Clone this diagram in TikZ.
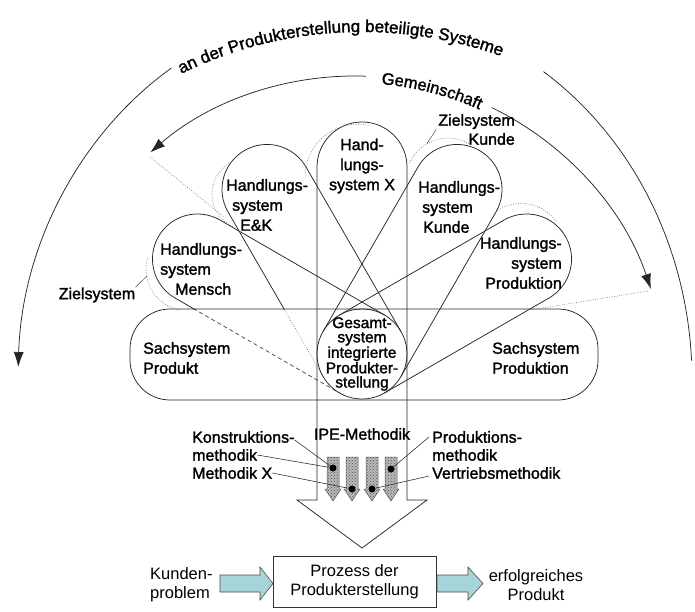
\documentclass[tikz,border=0pt]{standalone}
\usepackage{fontspec}
\setmainfont{Liberation Sans}
\newfontfamily\upf{Liberation Sans}[BoldFont={Liberation Sans},BoldFeatures={FakeBold=1.6}]
\usetikzlibrary{arrows.meta,calc,decorations.text,patterns}
\definecolor{arrcyan}{RGB}{166,212,216}
\begin{document}
\begin{tikzpicture}[x=1pt,y=-1pt,
  ln/.style={draw=black!85,line width=0.75pt},
  hidden/.style={draw=black!75,line width=0.7pt,dash pattern=on 4pt off 3pt},
  dotln/.style={draw=black!55,line width=0.6pt,dash pattern=on 0.8pt off 1.6pt},
  tip/.style={-{Latex[length=15pt,width=10pt]}},
  up/.style={inner sep=0pt,font=\upf\bfseries\fontsize{16}{20}\selectfont},
  low/.style={inner sep=0pt,font=\fontsize{16.5}{19.5}\selectfont},
  dot/.style={circle,fill=black,inner sep=0pt,minimum size=7pt},
  marrow/.style={draw=black!65,line width=0.5pt,fill=black!28,
    postaction={pattern=crosshatch dots,pattern color=black!65}},
  cyanarrow/.style={draw=black!70,line width=0.6pt,fill=arrcyan}]
\useasboundingbox (0,0) rectangle (695,612);

% ---------- outer arc (beteiligte Systeme) ----------
\draw[ln,tip] (355,380) ++(-123:337 and 372) arc[start angle=-123,end angle=-178,x radius=337,y radius=372];
\draw[ln] (355,380) ++(-56:337 and 372) arc[start angle=-56,end angle=-3,x radius=337,y radius=372];
\path[decorate,decoration={text along path,text align=left,
  text={|\upf\bfseries\fontsize{17}{20}\selectfont|an der Produkterstellung beteiligte Systeme}}]
  (362,390) ++(-118:385 and 358) arc[start angle=-118,end angle=-40,x radius=385,y radius=358];

% ---------- inner arc (Gemeinschaft) ----------
\draw[ln,tip] (355,388) ++(-88:312) arc[start angle=-88,end angle=-131,radius=312];
\draw[ln,tip] (355,388) ++(-64:312) arc[start angle=-64,end angle=-18.5,radius=312];
\path[decorate,decoration={text along path,text align=center,
  text={|\upf\bfseries\fontsize{16.5}{20}\selectfont|Gemeinschaft}}]
  (355,388) ++(-90:305) arc[start angle=-90,end angle=-61,radius=305];

% ---------- key coordinates ----------
\coordinate (C) at (362,354);
\coordinate (hM) at ($(C)+(-150:190)$);
\coordinate (hE) at ($(C)+(-120:190)$);
\coordinate (hX) at (362,167);
\coordinate (hK) at ($(C)+(-60:190)$);
\coordinate (hP) at ($(C)+(-30:190)$);

% ---------- Sachsystem box ----------
\node[draw=black!85,line width=0.75pt,rounded corners=40pt,minimum width=468pt,minimum height=91pt,inner sep=0pt] (sach) at (364,354.5) {};
\node[up,anchor=west,align=left] (sprod) at (143,358) {Sachsystem\\Produkt};
\node[up,anchor=west,align=left] (sprodn) at (492,358) {Sachsystem\\Produktion};

% ---------- IPE big arrow / Handlungssystem X ----------
\draw[ln] (317,500) -- (317,167) arc[start angle=-180,end angle=0,radius=45] -- (407,500) -- (427,500) -- (362,548) -- (297,500) -- cycle;

% ---------- petals ----------
% Mensch
\draw[ln] ($(C)+(-60:45)$) -- ($(hM)+(-60:45)$) arc[start angle=-60,end angle=-240,radius=45];
% E&K
\draw[ln] ($(C)+(-30:45)$) -- ($(hE)+(-30:45)$) arc[start angle=-30,end angle=-210,radius=45];
% Kunde
\draw[ln] ($(C)+(30:45)$) -- ($(hK)+(30:45)$) arc[start angle=30,end angle=-150,radius=45] -- ($(C)+(-150:45)$);
% Produktion
\draw[ln] ($(C)+(60:45)$) -- ($(hP)+(60:45)$) arc[start angle=60,end angle=-120,radius=45] -- ($(C)+(-120:45)$);
% lower sides, hidden inside the Sachsystem box
\begin{scope}
  \clip (0,0) rectangle (695,309);
  \draw[ln] ($(hM)+(120:45)$) -- ($(C)+(120:45)$);
  \draw[ln] ($(hE)+(150:45)$) -- ($(C)+(150:45)$);
\end{scope}
\begin{scope}
  \clip (0,309) rectangle (695,612);
  \draw[hidden] ($(hM)+(120:45)$) -- ($(C)+(120:45)$);
  \draw[dotln] ($(hE)+(150:45)$) -- ($(C)+(150:45)$);
\end{scope}

% ---------- Gesamtsystem ----------
\node[draw=black!85,line width=0.75pt,circle,minimum size=90pt,inner sep=0pt] (gescirc) at (C) {};
\node[up,align=center,font=\upf\bfseries\fontsize{15.5}{14.3}\selectfont] (gestext) at (362,354) {Gesamt-\\system\\integrierte\\Produkter-\\stellung};

% ---------- Zielsystem dotted arcs ----------
\draw[dotln] (188,269) ++(-165:42) arc[start angle=-165,end angle=-260,radius=42];
\draw[dotln] (248,194) ++(-118:36) arc[start angle=-118,end angle=-247,radius=36];
\draw[dotln] (357.6,176.8) ++(-78:52.6) arc[start angle=-78,end angle=-182,radius=52.6];
\draw[dotln] (448,180) ++(-60:42) arc[start angle=-60,end angle=-158,radius=42];
\draw[dotln] (521,247) ++(-36:43.5) arc[start angle=-36,end angle=-124,radius=43.5];

% radial dotted lines
\coordinate (rl1) at (150,157);
\coordinate (rl2) at (224,217);
\coordinate (rr1) at (648,291);
\coordinate (rr2) at (530,310);
\draw[dotln] (rl1) -- (rl2);
\draw[dotln] (rr1) -- (rr2);

% ---------- petal texts ----------
\node[up,align=center] (tX) at (362,166) {Hand-\\lungs-\\system X};
\node[up,align=left,anchor=west] (tE) at (226,205) {Handlungs-\\\hspace*{6pt}system\\\hspace*{14pt}E\&K};
\node[up,align=left,anchor=west] (tM) at (160,269) {Handlungs-\\system\\\hspace*{15pt}Mensch};
\node[up,align=left,anchor=west] (tK) at (418,207) {Handlungs-\\\hspace*{4pt}system\\\hspace*{5pt}Kunde};
\node[up,align=right,anchor=east] (tP) at (562,263) {Handlungs-\\system\\Produktion};

% ---------- Zielsystem labels ----------
\node[up,font=\upf\bfseries\fontsize{16}{19}\selectfont] (zs) at (97,295) {Zielsystem};
\coordinate (zsM) at (146.6,276.3);
\draw[draw=black!70,line width=0.5pt] (zs.north east) -- (zsM);
\node[up,align=right,anchor=east,font=\upf\bfseries\fontsize{16}{19}\selectfont] (zk) at (515,129.5) {Zielsystem\\Kunde};
\coordinate (zkM) at (427,143.6);
\draw[draw=black!70,line width=0.5pt] ([xshift=-2pt]zk.west) -- (zkM);

% ---------- method arrows ----------
\foreach \cx in {333,352,372,391}{
  \draw[marrow] (\cx-6,457) -- (\cx+6,457) -- (\cx+6,489) -- (\cx+8,489) -- (\cx,501) -- (\cx-8,489) -- (\cx-6,489) -- cycle;
}
\node[dot] (d1) at (333,468) {};
\node[dot] (d2) at (352,489) {};
\node[dot] (d3) at (372,489) {};
\node[dot] (d4) at (391,469) {};

\node[up] (ipe) at (362,434) {IPE-Methodik};
\node[up,anchor=west] (k1) at (192,437) {Konstruktions-};
\node[up,anchor=west] (k2) at (192,455) {methodik};
\node[up,anchor=west] (mx) at (192,473) {Methodik X};
\node[up,anchor=west] (p1) at (432,437) {Produktions-};
\node[up,anchor=west] (p2) at (432,455) {methodik};
\node[up,anchor=west] (vm) at (432,473) {Vertriebsmethodik};
\draw[draw=black!80,line width=0.6pt] ([yshift=-3pt]k1.east) -- (d1);
\draw[draw=black!80,line width=0.6pt] (k2.east) -- (d1);
\draw[draw=black!80,line width=0.6pt] (mx.east) -- (d2);
\draw[draw=black!80,line width=0.6pt] ([xshift=-3pt]p1.west) -- (d4);
\draw[draw=black!80,line width=0.6pt] ([xshift=-3pt,yshift=-3pt]vm.west) -- (d3);

% ---------- bottom process ----------
\node[draw=black!80,line width=0.7pt,minimum width=163pt,minimum height=51pt,inner sep=0pt,align=center,low] (proc) at (354.5,581.5) {Prozess der\\Produkterstellung};
\node[low,align=left,anchor=west] (kp) at (150,584.5) {Kunden-\\problem};
\node[low,align=center] (ep) at (536,585) {erfolgreiches\\Produkt};
\draw[cyanarrow] (220,575) -- (260,575) -- (260,567) -- (273,583.5) -- (260,600) -- (260,592) -- (220,592) -- cycle;
\draw[cyanarrow] (437,575) -- (468,575) -- (468,567) -- (483,583.5) -- (468,600) -- (468,592) -- (437,592) -- cycle;
\end{tikzpicture}
\end{document}
